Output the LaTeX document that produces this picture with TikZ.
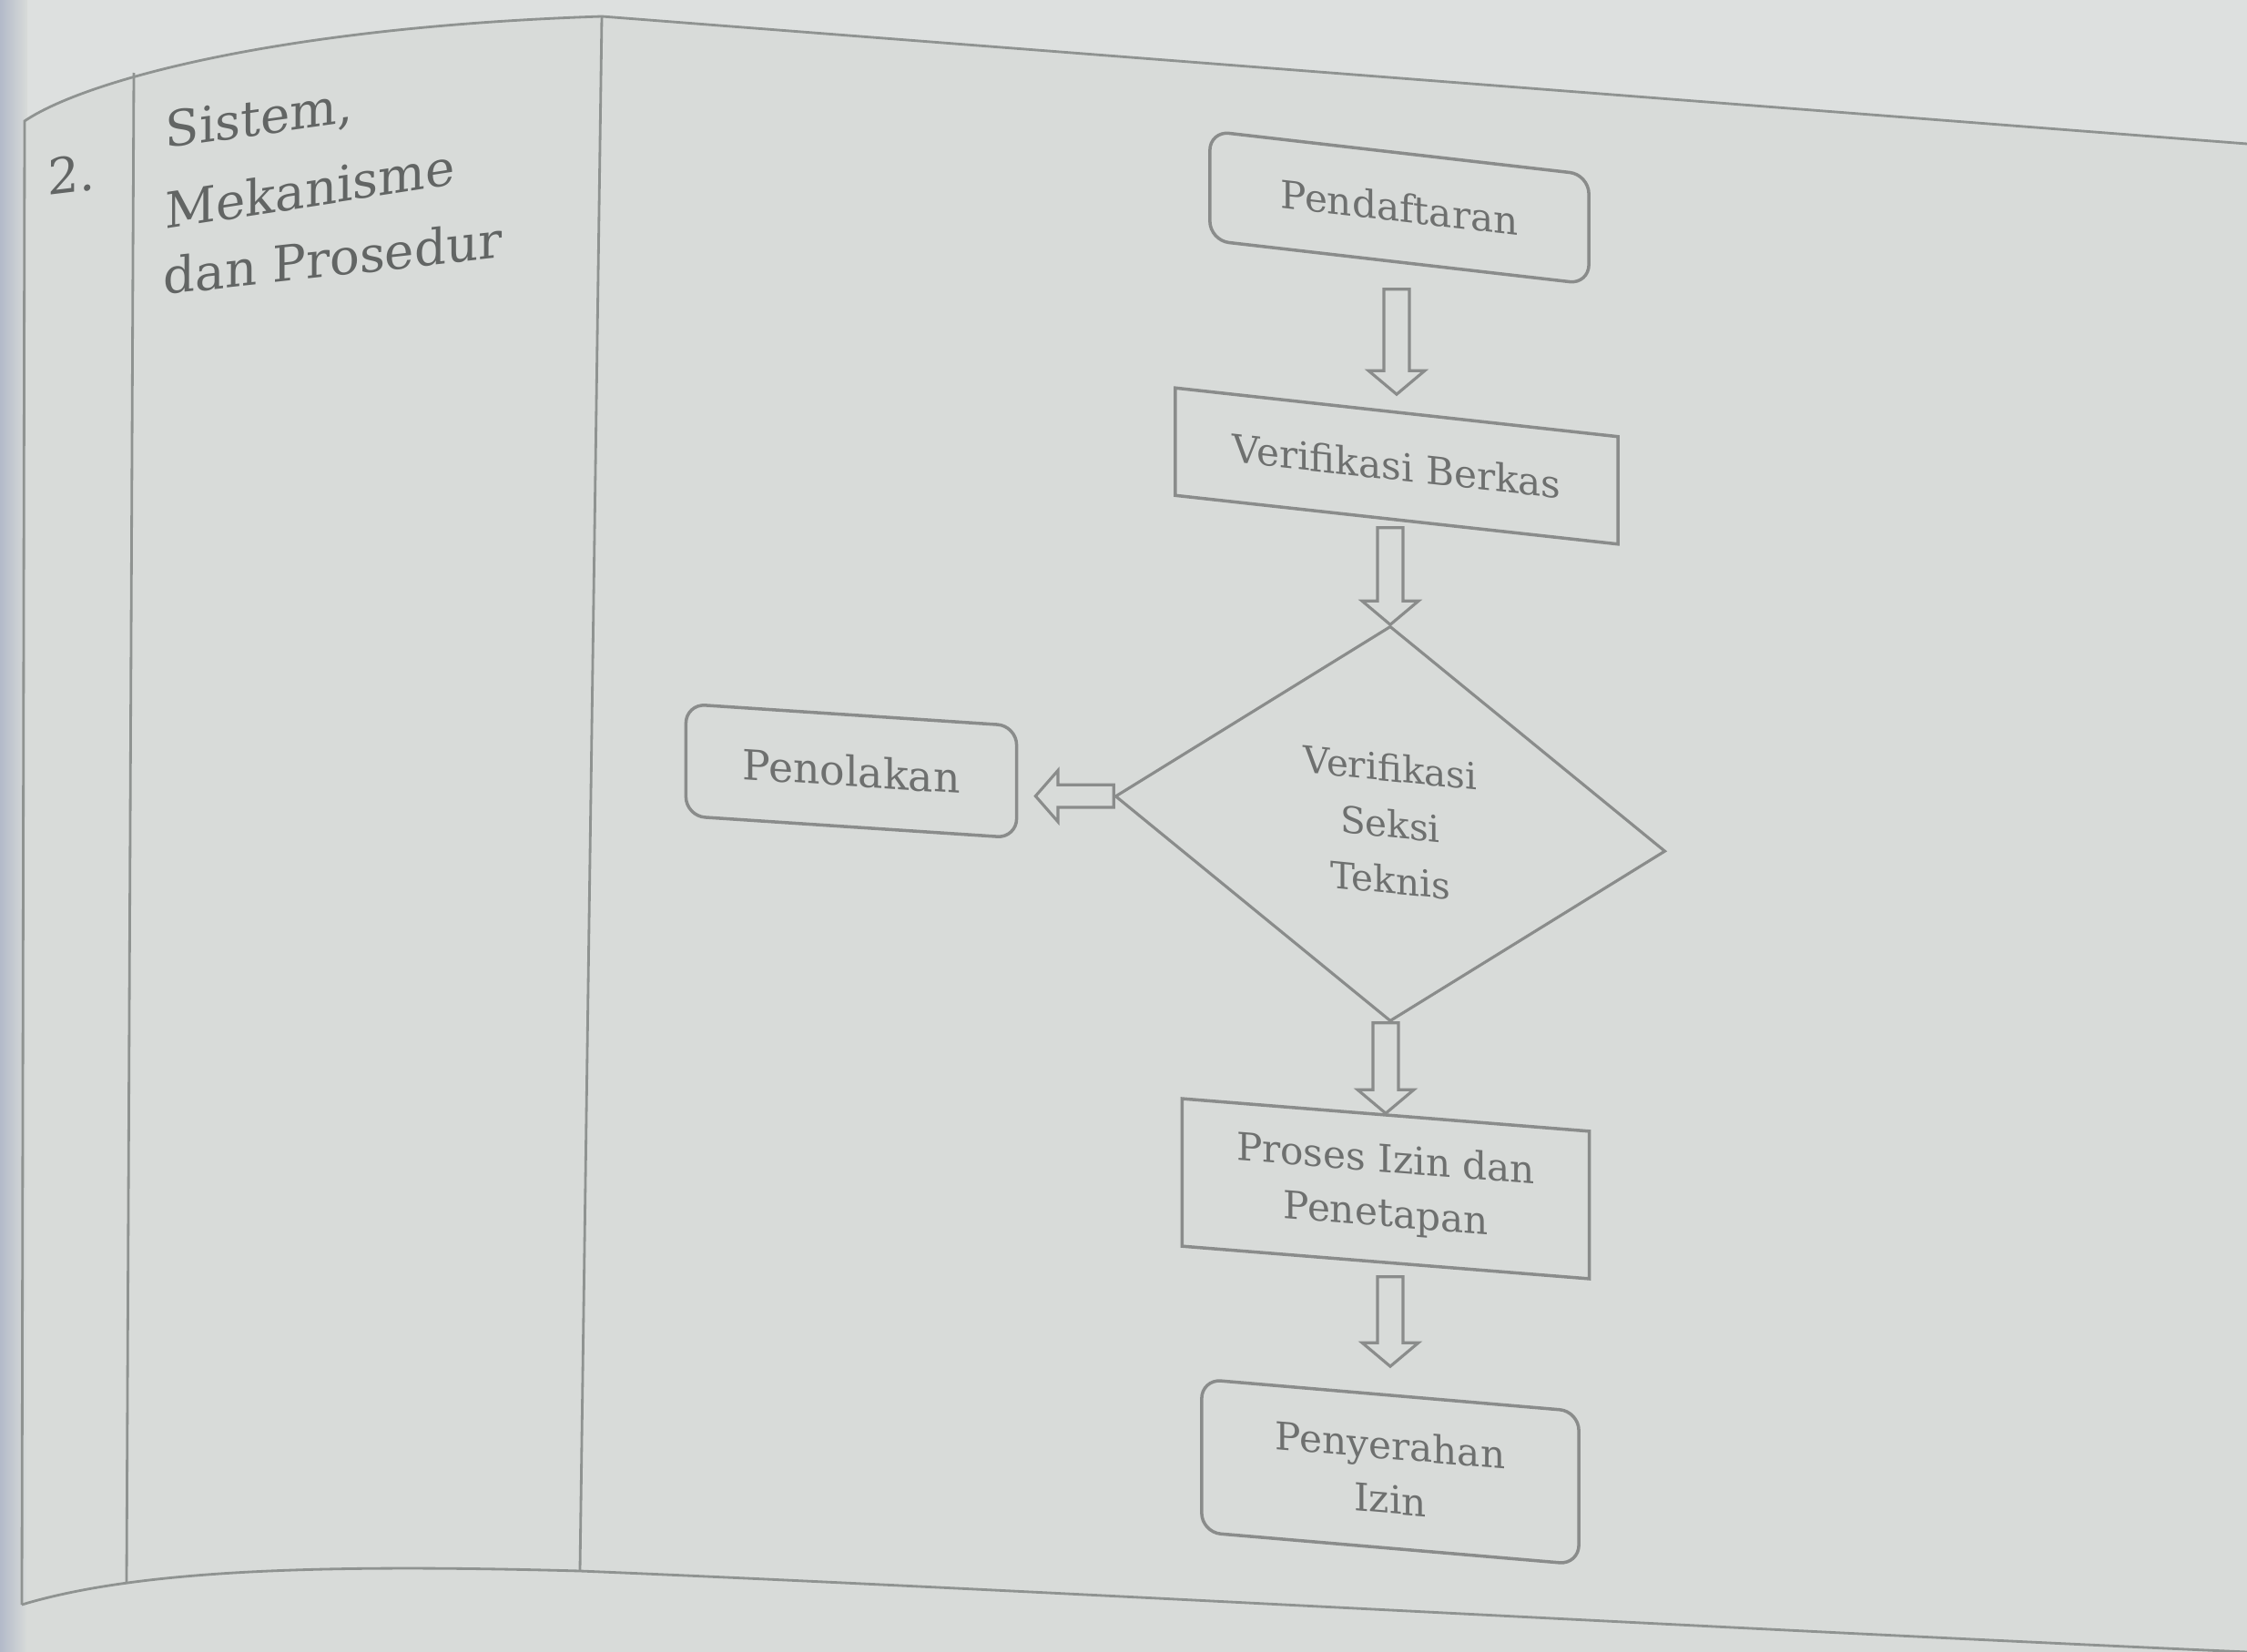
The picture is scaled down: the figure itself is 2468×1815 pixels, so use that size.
\documentclass[tikz,border=0pt]{standalone}
\usepackage{fontspec}
\setmainfont{DejaVu Serif}
\usetikzlibrary{shapes.geometric,calc}
\definecolor{bgc}{HTML}{D8DBD9}
\definecolor{topc}{HTML}{DDE0DF}
\definecolor{linec}{HTML}{8A8C8B}
\definecolor{txtc}{HTML}{6E706F}
\definecolor{headc}{HTML}{626564}
\definecolor{tblc}{HTML}{8F9391}
\definecolor{edgec}{HTML}{B3BAC9}
\newcommand\dnarrow[2]{\draw[blk] let \p1=(#1), \p2=(#2) in
  (\x2-4pt,\y1) -- (\x2+4pt,\y1) -- (\x2+4pt,\y2+7.4pt) -- (\x2+8.8pt,\y2+7.4pt)
  -- (\x2,\y2) -- (\x2-8.8pt,\y2+7.4pt) -- (\x2-4pt,\y2+7.4pt) -- cycle;}
\newcommand\lfarrow[2]{\draw[blk] let \p1=(#1), \p2=(#2) in
  (\x1,\y1+3.5pt) -- (\x2+7pt,\y1+3.5pt) -- (\x2+7pt,\y1+8pt) -- (\x2,\y1)
  -- (\x2+7pt,\y1-8pt) -- (\x2+7pt,\y1-3.5pt) -- (\x1,\y1-3.5pt) -- cycle;}
\begin{document}
\begin{tikzpicture}[x=0.01cm,y=-0.01cm,
  box/.style={draw=linec, line width=1pt, text=txtc, font=\fontsize{12}{17}\selectfont, align=center, inner sep=0pt},
  rbox/.style={box, rounded corners=6pt},
  blk/.style={draw=linec, line width=0.9pt, fill=bgc, line join=miter},
  tbl/.style={draw=tblc, line width=0.8pt},
  head/.style={text=headc, font=\fontsize{15.5}{15.5}\selectfont, anchor=base west, inner sep=0pt}]
\useasboundingbox (0,0) rectangle (2468,1815);
\fill[bgc] (0,0) rectangle (2468,1815);
\fill[topc] (0,0) -- (2468,0) -- (2468,158) -- (661,18) .. controls (300,30) and (90,90) .. (27,133) -- (0,133) -- cycle;
\shade[left color=edgec, right color=bgc] (0,0) rectangle (30,1815);
% table lines
\draw[tbl] (24,1763) -- (27,133) .. controls (90,90) and (300,30) .. (661,18) -- (2468,158);
\draw[tbl] (24,1763) .. controls (150,1725) and (350,1718) .. (637,1726) .. controls (1100,1745) and (1900,1790) .. (2468,1815);
\draw[tbl] (147,80) -- (139,1740);
\draw[tbl] (661,18) -- (637,1726);
% left column texts
\node[head, anchor=center, yslant=0.12] (num) at (79,192) {2.};
\node[head, yslant=0.14] (h1) at (181,163) {Sistem,};
\node[head, yslant=0.155] (h2) at (181,252) {Mekanisme};
\node[head, yslant=0.11] (h3) at (179,324) {dan Prosedur};
% flowchart
\node[rbox, minimum width=4.16cm, minimum height=1.2cm, yslant=-0.115] (pend) at (1537,228) {Pendaftaran};
\node[box, minimum width=4.86cm, minimum height=1.18cm, yslant=-0.11] (verb) at (1534,512) {Verifikasi Berkas};
\node[diamond, draw=linec, line width=0.9pt, minimum width=6.04cm, minimum height=4.34cm, aspect=1.39, inner sep=0pt, yslant=-0.1, text=txtc, font=\fontsize{11.5}{17.5}\selectfont, align=center] (diam) at (1527,905) {Verifikasi\\Seksi\\Teknis};
\node[rbox, minimum width=3.63cm, minimum height=1.23cm, yslant=-0.066, font=\fontsize{13}{17}\selectfont] (penol) at (935,847) {Penolakan};
\node[box, minimum width=4.47cm, minimum height=1.62cm, yslant=-0.08] (proses) at (1522,1306) {Proses Izin dan\\Penetapan};
\node[rbox, minimum width=4.14cm, minimum height=1.68cm, yslant=-0.085] (penyer) at (1527,1617) {Penyerahan\\Izin};
% connectors
\dnarrow{$(pend.south)+(0,28)$}{$(verb.north)+(0,-18)$}
\dnarrow{$(verb.south)+(0,7)$}{diam.north}
\dnarrow{diam.south}{proses.north}
\dnarrow{$(proses.south)+(0,14)$}{$(penyer.north)+(0,-30)$}
\lfarrow{diam.west}{$(penol.east)+(19,0)$}
\end{tikzpicture}
\end{document}
